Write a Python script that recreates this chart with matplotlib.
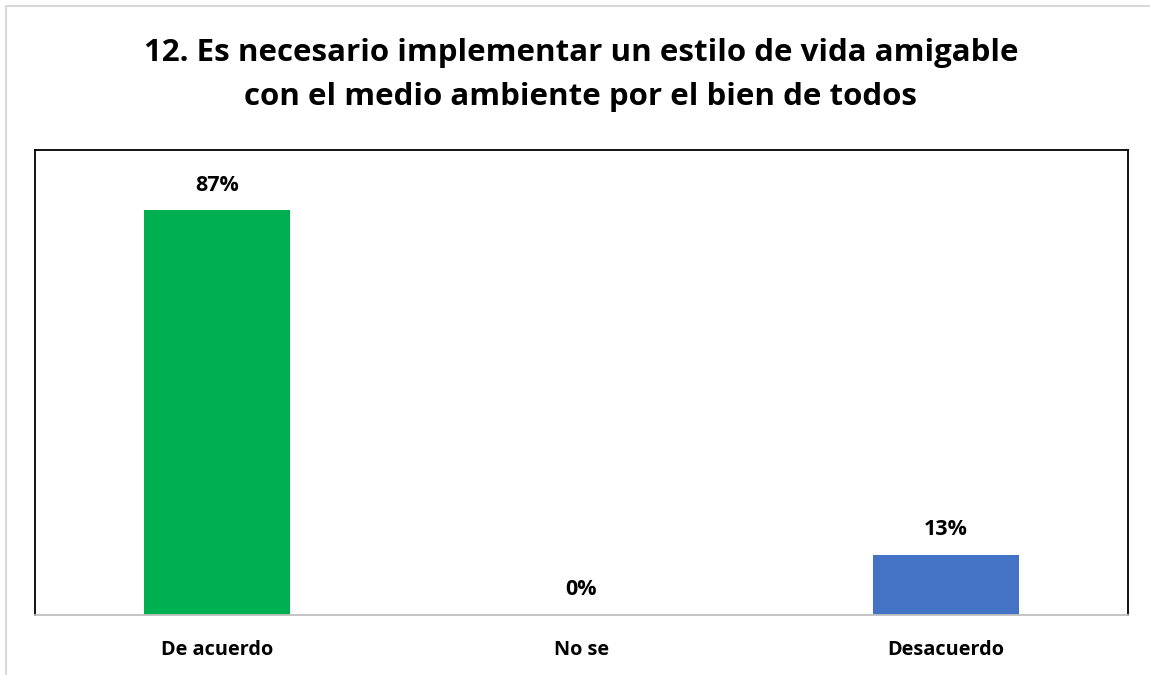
import matplotlib.pyplot as plt
from matplotlib.lines import Line2D

categorias = ['De acuerdo', 'No se', 'Desacuerdo']
valores = [0.87, 0.0, 0.13]
colores = ['#00B050', '#4472C4', '#4472C4']
titulo = '12. Es necesario implementar un estilo de vida amigable\ncon el medio ambiente por el bien de todos'

plt.rcParams['font.family'] = ['Open Sans', 'DejaVu Sans']

fig = plt.figure(figsize=(11.5, 6.75), dpi=100)
ax = fig.add_axes([35 / 1150, 1 - 615 / 675, 1093 / 1150, 465 / 675])

x = range(len(categorias))
ax.bar(x, valores, width=0.4, color=colores, zorder=2)
for i, v in enumerate(valores):
	ax.text(i, v + 0.032, '{:.0%}'.format(v), ha='center', va='bottom',
		fontsize=15.5, fontweight='bold')

ax.set_xlim(-0.5, 2.5)
ax.set_ylim(0, 1.0)
ax.set_yticks([])
ax.set_xticks(list(x))
ax.set_xticklabels(categorias, fontsize=14.3, fontweight='bold')
ax.tick_params(axis='x', length=0, pad=18)
for s in ['left', 'top', 'right']:
	ax.spines[s].set_color('black')
	ax.spines[s].set_linewidth(1.3)
ax.spines['bottom'].set_color('#BFBFBF')
ax.spines['bottom'].set_linewidth(1.3)

fig.text(581 / 1150, 1 - 75 / 675, titulo, ha='center', va='center',
	fontsize=22.5, fontweight='bold', linespacing=1.6)

# borde exterior gris
fig.add_artist(Line2D([6 / 1150, 6 / 1150], [0, 1 - 6 / 675], color='#D9D9D9', lw=1.5))
fig.add_artist(Line2D([6 / 1150, 1], [1 - 6 / 675, 1 - 6 / 675], color='#D9D9D9', lw=1.5))

fig.savefig('out.png', dpi=100)
